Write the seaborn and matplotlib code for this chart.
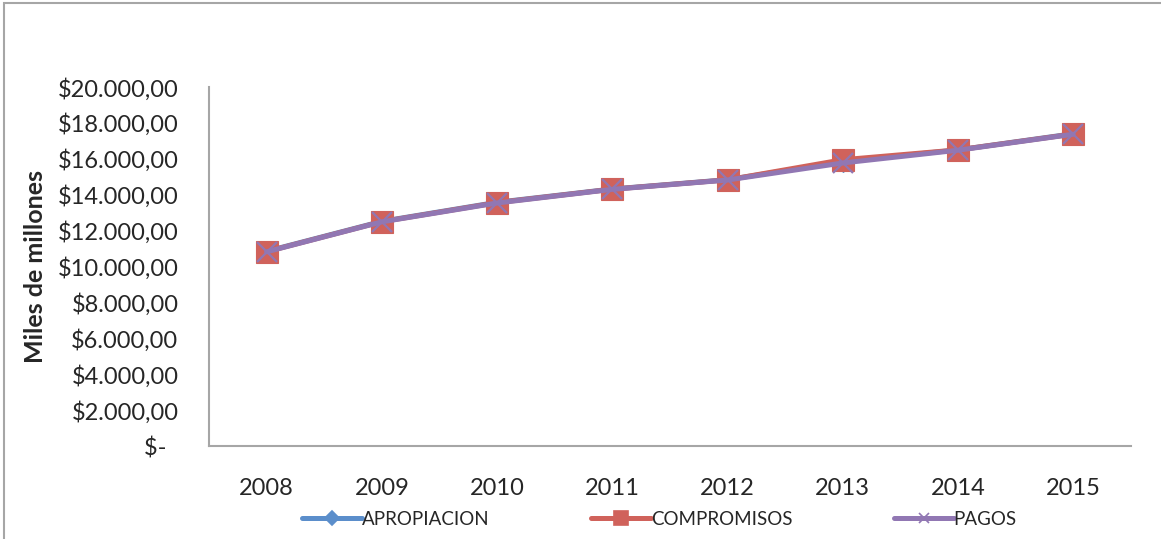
import pandas as pd
import numpy as np
import matplotlib
matplotlib.use("Agg")
import matplotlib.pyplot as plt
import matplotlib.patches as patches
from matplotlib.ticker import FuncFormatter
import seaborn as sns

# ---------------------------------------------------------
# DATA (miles de millones)
# ---------------------------------------------------------
years = [2008, 2009, 2010, 2011, 2012, 2013, 2014, 2015]
apropiacion = [10850, 12520, 13580, 14320, 14840, 15850, 16500, 17400]
compromisos = [10830, 12500, 13560, 14310, 14830, 15950, 16500, 17380]
pagos = [10820, 12490, 13540, 14300, 14820, 15770, 16480, 17370]
series_names = ["APROPIACION", "COMPROMISOS", "PAGOS"]

df = pd.DataFrame({
    "year": years * 3,
    "value": apropiacion + compromisos + pagos,
    "serie": [series_names[0]] * 8 + [series_names[1]] * 8 + [series_names[2]] * 8,
})

# ---------------------------------------------------------
# STYLE
# ---------------------------------------------------------
sns.set_style("white")
plt.rcParams["font.family"] = ["Lato", "DejaVu Sans"]

palette = {"APROPIACION": "#5B8ECB", "COMPROMISOS": "#D0625B", "PAGOS": "#9177B3"}
markers = {"APROPIACION": "D", "COMPROMISOS": "s", "PAGOS": "X"}

fig = plt.figure(figsize=(11.61, 5.39), dpi=100)
ax = fig.add_axes([0.180, 0.1725, 0.794, 0.666])

sns.lineplot(data=df, x="year", y="value", hue="serie", style="serie",
             palette=palette, markers=markers, dashes=False,
             linewidth=3.6, markersize=16, markeredgewidth=0.8,
             ax=ax, legend=False)

# apropiacion diamonds sit hidden under the squares
ax.lines[0].set_markersize(10)
# pagos marker: thin x over the squares
ax.lines[2].set_marker("x")
ax.lines[2].set_markersize(14)
ax.lines[2].set_markeredgewidth(1.6)
ax.lines[2].set_markeredgecolor(palette["PAGOS"])
for ln, name in zip(ax.lines[:2], series_names[:2]):
    ln.set_markeredgecolor(palette[name])

ax.set_xlim(2007.5, 2015.5)
ax.set_ylim(0, 20000)
ax.set_xticks(years)
ax.set_yticks(np.arange(0, 20001, 2000))


def money(v, pos):
    if v == 0:
        return "$-  "
    return "$" + f"{v:,.2f}".replace(",", "X").replace(".", ",").replace("X", ".")


ax.yaxis.set_major_formatter(FuncFormatter(money))
ax.tick_params(axis="y", length=0, pad=22, labelsize=17)
ax.tick_params(axis="x", length=0, pad=23, labelsize=17)
ax.set_xlabel("")
ax.set_ylabel("Miles de millones", fontsize=18, fontweight="bold")
ax.yaxis.set_label_coords(-0.176, 0.5)

for side in ["top", "right"]:
    ax.spines[side].set_visible(False)
for side in ["left", "bottom"]:
    ax.spines[side].set_color("#A6A6A6")
    ax.spines[side].set_linewidth(1.5)

# legend
legend_sizes = {"APROPIACION": 7, "COMPROMISOS": 10, "PAGOS": 7}
handles = []
for name in series_names:
    h, = ax.plot([], [], color=palette[name], linewidth=3.6,
                 marker=markers[name] if name != "PAGOS" else "x",
                 markersize=legend_sizes[name], markeredgecolor=palette[name],
                 markeredgewidth=1.2)
    handles.append(h)
fig.legend(handles, series_names, loc="center", bbox_to_anchor=(0.568, 0.037),
           ncol=3, frameon=False, fontsize=13.5, handlelength=3.2,
           handletextpad=0.0, columnspacing=5.4)

# outer frame
fig.patches.append(patches.Rectangle((0.0035, -0.01), 1.1, 1.0045,
                                     transform=fig.transFigure, fill=False,
                                     edgecolor="#A6A6A6", linewidth=1.5))

fig.savefig("out.png", dpi=100)
